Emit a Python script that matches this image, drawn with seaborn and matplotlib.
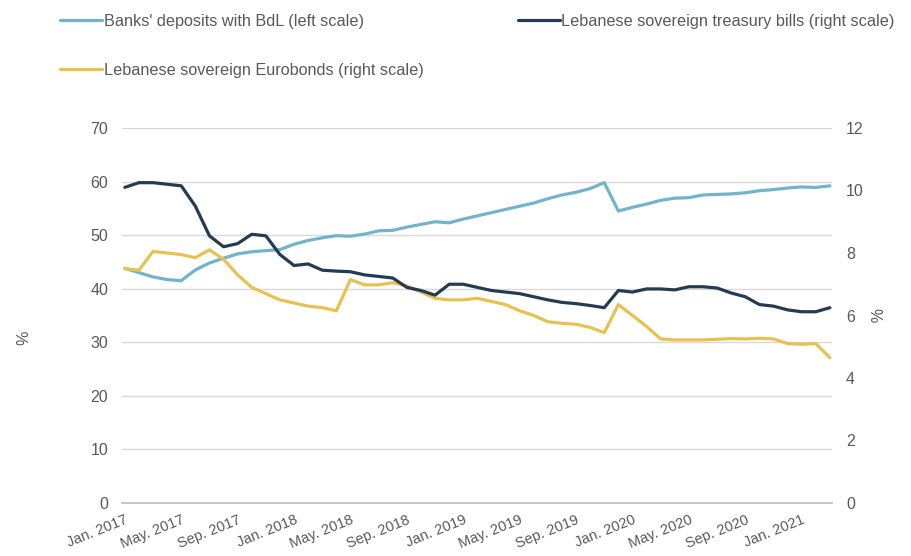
import numpy as np
import pandas as pd
import matplotlib
matplotlib.use("Agg")
import matplotlib.pyplot as plt
import seaborn as sns
from matplotlib.lines import Line2D

months = pd.date_range("2017-01-01", "2021-03-01", freq="MS")
tick_labels = ["Jan. 2017", "May. 2017", "Sep. 2017", "Jan. 2018", "May. 2018", "Sep. 2018",
               "Jan. 2019", "May. 2019", "Sep. 2019", "Jan. 2020", "May. 2020", "Sep. 2020",
               "Jan. 2021"]

deposits_bdl = [43.8, 43.0, 42.2, 41.7, 41.5, 43.5, 44.8, 45.7, 46.5, 46.9,
                47.1, 47.3, 48.3, 49.0, 49.5, 49.9, 49.8, 50.2, 50.8, 50.9,
                51.5, 52.0, 52.5, 52.3, 53.0, 53.6, 54.2, 54.8, 55.4, 56.0,
                56.8, 57.5, 58.0, 58.7, 59.8, 54.5, 55.2, 55.8, 56.5, 56.9,
                57.0, 57.5, 57.6, 57.7, 57.9, 58.3, 58.5, 58.8, 59.0, 58.9,
                59.2]

treasury_bills = [10.1, 10.25, 10.25, 10.2, 10.15, 9.5, 8.55, 8.2, 8.3, 8.6,
                  8.55, 7.95, 7.6, 7.65, 7.45, 7.42, 7.4, 7.3, 7.25, 7.2,
                  6.9, 6.8, 6.65, 7.0, 7.0, 6.9, 6.8, 6.75, 6.7, 6.6,
                  6.5, 6.42, 6.38, 6.32, 6.25, 6.8, 6.75, 6.85, 6.85, 6.82,
                  6.92, 6.92, 6.88, 6.72, 6.6, 6.35, 6.3, 6.18, 6.12, 6.12,
                  6.25]

eurobonds = [7.5, 7.45, 8.05, 8.0, 7.95, 7.85, 8.1, 7.8, 7.3, 6.9,
             6.7, 6.5, 6.4, 6.3, 6.25, 6.15, 7.15, 6.98, 6.98, 7.05,
             6.95, 6.75, 6.55, 6.5, 6.5, 6.55, 6.45, 6.35, 6.15, 6.0,
             5.8, 5.75, 5.72, 5.62, 5.45, 6.35, 6.0, 5.65, 5.25, 5.22,
             5.22, 5.22, 5.24, 5.26, 5.25, 5.27, 5.25, 5.1, 5.08, 5.1,
             4.65]

labels = ["Banks' deposits with BdL (left scale)",
          "Lebanese sovereign treasury bills (right scale)",
          "Lebanese sovereign Eurobonds (right scale)"]
c_blue = "#72b4c9"
c_navy = "#243b52"
c_yellow = "#e8c250"

sns.set_theme(style="white")
plt.rcParams["font.family"] = ["Liberation Sans", "DejaVu Sans"]

df = pd.DataFrame({"idx": np.arange(len(months)),
                   "dep": deposits_bdl, "tb": treasury_bills, "eb": eurobonds})

fig = plt.figure(figsize=(9.11, 5.56), dpi=100)
W, H = 911, 556
x0, x1, ytop, ybot = 122, 832, 128, 503
ax = fig.add_axes([x0 / W, 1 - ybot / H, (x1 - x0) / W, (ybot - ytop) / H])
ax2 = ax.twinx()

lw = 2.3
sns.lineplot(data=df, x="idx", y="dep", ax=ax, color=c_blue, lw=lw, legend=False)
sns.lineplot(data=df, x="idx", y="tb", ax=ax2, color=c_navy, lw=lw, legend=False)
sns.lineplot(data=df, x="idx", y="eb", ax=ax2, color=c_yellow, lw=lw, legend=False)
ax2.lines[0].set_zorder(3)
ax.set_zorder(ax2.get_zorder() - 1)
ax2.patch.set_visible(False)

fs = 11.5
ax.set_xlim(-0.2, 50.15)
ax.set_ylim(0, 70)
ax2.set_ylim(0, 12)
ax.set_yticks(np.arange(0, 71, 10))
ax2.set_yticks(np.arange(0, 13, 2))
ax.grid(axis="y", color="#d9d9d9", lw=1.0)
ax2.grid(False)
ax.set_xticks(np.arange(0, 49, 4))
ax.set_xticklabels(tick_labels, rotation=22, ha="right", rotation_mode="anchor")

tc = "#595959"
for a in (ax, ax2):
    for s in a.spines.values():
        s.set_visible(False)
    a.tick_params(axis="y", length=0, labelsize=fs, colors=tc)
ax.tick_params(axis="y", pad=10)
ax2.tick_params(axis="y", pad=10)
ax.spines["bottom"].set_visible(True)
ax.spines["bottom"].set_color("#bfbfbf")
ax.tick_params(axis="x", length=5, color="#bfbfbf", labelsize=10.5, labelcolor=tc, pad=2, direction="out")
ax.set_xlabel("")
ax.set_ylabel("%", color=tc, fontsize=fs, rotation=90)
ax.yaxis.set_label_coords(-0.128, 0.44)
ax2.set_ylabel("%", color=tc, fontsize=fs, rotation=270)
ax2.yaxis.set_label_coords(1.07, 0.5)

handles = [Line2D([], [], color=c_blue, lw=lw),
           Line2D([], [], color=c_yellow, lw=lw),
           Line2D([], [], color=c_navy, lw=lw)]
fig.legend(handles, [labels[0], labels[2], labels[1]], ncol=2, loc="upper left",
           bbox_to_anchor=(45 / W, 1 + 1 / H), frameon=False, fontsize=11.7,
           handlelength=2.6, handletextpad=0.1, labelspacing=2.1,
           columnspacing=5.8, labelcolor=tc)

fig.savefig("out.png", dpi=100)
